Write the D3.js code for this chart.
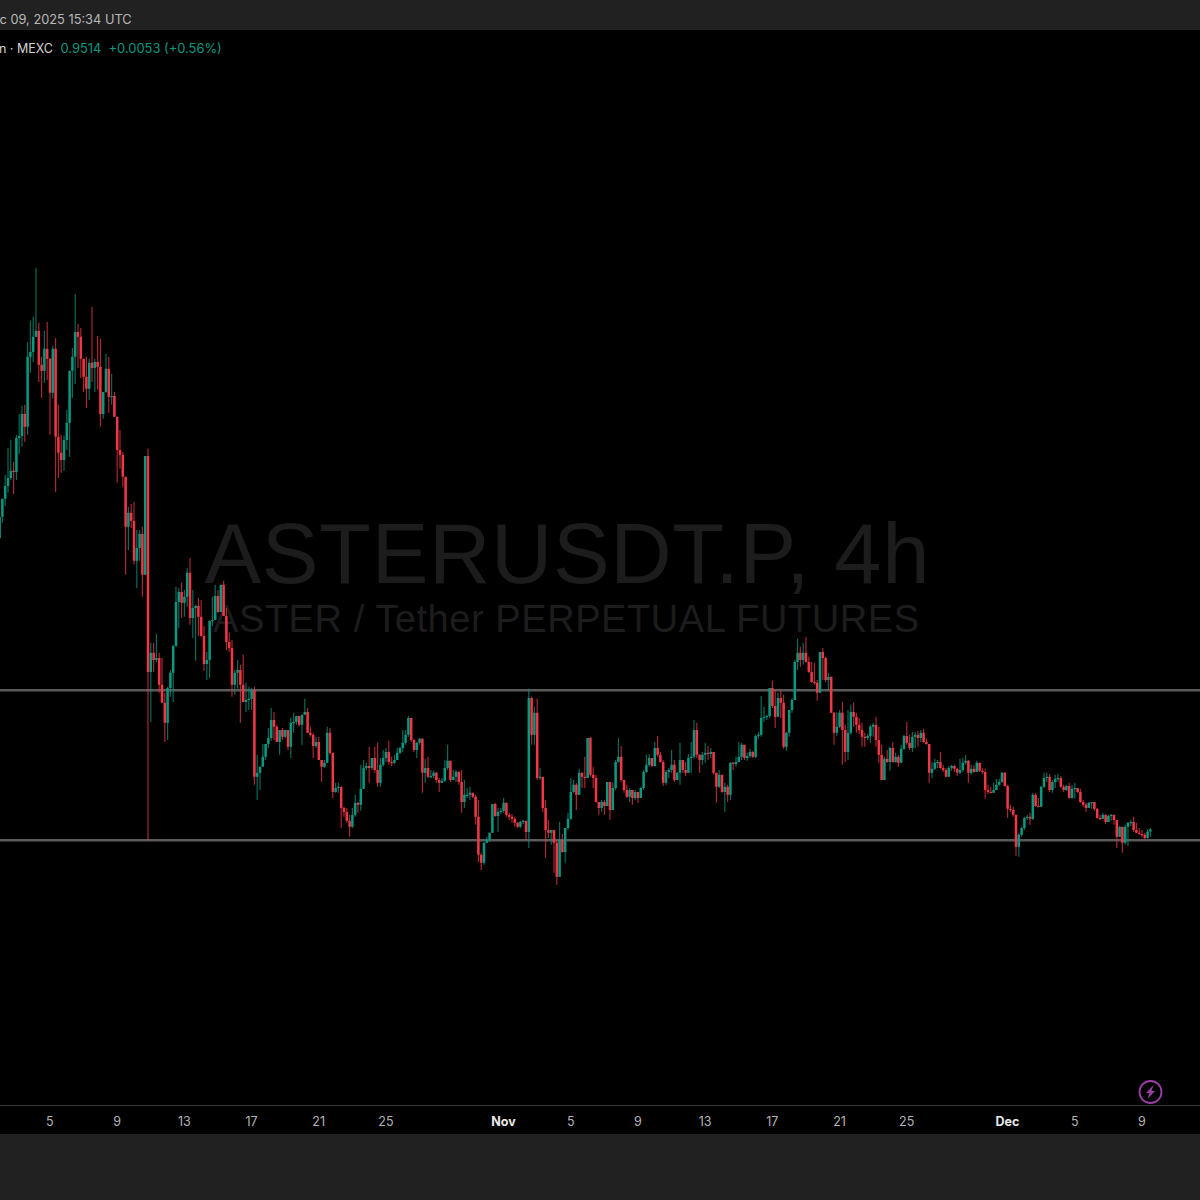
<!DOCTYPE html>
<html><head><meta charset="utf-8">
<script src="https://cdn.jsdelivr.net/npm/d3@7"></script>
<style>html,body{margin:0;padding:0;background:#000;overflow:hidden}svg{display:block}</style>
</head><body><div id="chart"></div>
<script>
const firstOpen = 1.680;
const closes = [1.733,1.778,1.810,1.830,1.848,1.845,1.930,1.935,1.990,1.958,2.133,2.145,2.183,2.198,2.113,2.098,2.153,2.128,2.043,2.153,
1.933,1.893,1.875,1.925,1.968,2.098,2.133,2.195,2.183,2.128,2.083,2.053,2.118,2.105,2.120,2.108,1.990,2.045,2.103,2.033,
2.035,1.983,1.900,1.888,1.833,1.708,1.743,1.723,1.623,1.655,1.690,1.588,1.885,1.345,1.393,1.375,1.380,1.313,1.268,1.218,
1.305,1.343,1.410,1.520,1.545,1.518,1.533,1.593,1.480,1.505,1.510,1.483,1.435,1.365,1.375,1.473,1.475,1.535,1.495,1.563,
1.485,1.420,1.405,1.313,1.343,1.350,1.313,1.270,1.275,1.278,1.300,1.083,1.093,1.108,1.133,1.165,1.180,1.225,1.208,1.170,
1.200,1.183,1.200,1.158,1.218,1.220,1.235,1.213,1.238,1.245,1.193,1.188,1.160,1.170,1.125,1.108,1.118,1.193,1.143,1.045,
1.055,1.058,1.005,0.995,0.973,0.958,0.988,1.018,1.013,1.053,1.105,1.110,1.105,1.130,1.100,1.068,1.113,1.130,1.145,1.120,
1.118,1.125,1.143,1.155,1.168,1.188,1.230,1.175,1.150,1.168,1.178,1.093,1.105,1.083,1.085,1.093,1.075,1.068,1.073,1.105,
1.123,1.075,1.083,1.095,1.070,1.020,1.038,1.038,1.043,1.033,0.983,0.888,0.868,0.918,0.925,0.943,1.015,0.985,0.995,0.998,
1.018,0.988,0.983,0.978,0.968,0.958,0.970,0.973,0.945,1.280,1.188,1.243,1.080,1.083,1.005,0.950,0.943,0.950,0.918,0.833,
0.925,0.895,0.955,0.978,1.045,1.063,1.038,1.093,1.083,1.080,1.180,1.088,1.080,1.020,1.005,1.020,1.010,1.070,1.000,1.055,
1.120,1.133,1.075,1.050,1.033,1.050,1.030,1.045,1.030,1.055,1.095,1.113,1.130,1.110,1.155,1.138,1.120,1.068,1.095,1.100,
1.113,1.075,1.093,1.125,1.100,1.093,1.130,1.133,1.200,1.138,1.125,1.138,1.143,1.140,1.145,1.093,1.058,1.088,1.045,1.058,
1.038,1.118,1.115,1.120,1.133,1.163,1.130,1.135,1.145,1.133,1.185,1.188,1.230,1.233,1.235,1.305,1.260,1.233,1.280,1.268,
1.158,1.193,1.250,1.275,1.370,1.393,1.375,1.393,1.370,1.345,1.320,1.318,1.293,1.395,1.380,1.325,1.333,1.243,1.193,1.208,
1.243,1.200,1.145,1.193,1.245,1.233,1.213,1.200,1.183,1.180,1.185,1.208,1.213,1.175,1.138,1.075,1.128,1.120,1.155,1.120,
1.133,1.118,1.153,1.185,1.168,1.155,1.183,1.188,1.180,1.193,1.170,1.165,1.093,1.103,1.118,1.120,1.105,1.100,1.083,1.105,
1.110,1.103,1.093,1.100,1.118,1.123,1.093,1.103,1.095,1.118,1.098,1.095,1.050,1.045,1.043,1.050,1.063,1.070,1.093,1.060,
1.003,1.000,0.988,0.908,0.938,0.955,0.980,0.983,0.978,1.038,1.010,1.008,1.058,1.080,1.083,1.050,1.070,1.078,1.080,1.058,
1.050,1.060,1.030,1.053,1.055,1.045,1.020,1.013,1.005,1.018,1.020,1.003,0.980,0.978,0.988,0.970,0.985,0.988,0.975,0.933,
0.958,0.918,0.958,0.968,0.970,0.950,0.943,0.940,0.938,0.930,0.9461,0.9514];
const highs = [1.733,1.778,1.838,1.905,1.925,1.870,1.938,1.990,2.010,2.013,2.170,2.223,2.233,2.355,2.218,2.133,2.198,2.220,2.130,2.160,
2.180,2.013,1.938,1.935,2.000,2.098,2.155,2.290,2.215,2.205,2.128,2.133,2.128,2.258,2.128,2.185,2.178,2.045,2.140,2.133,
2.090,2.045,1.983,1.950,1.895,1.833,1.758,1.765,1.770,1.700,1.700,1.708,1.885,1.903,1.418,1.418,1.440,1.393,1.380,1.293,
1.308,1.350,1.413,1.558,1.555,1.568,1.550,1.605,1.630,1.550,1.513,1.530,1.525,1.460,1.395,1.473,1.533,1.563,1.550,1.563,
1.573,1.505,1.443,1.425,1.350,1.375,1.363,1.388,1.318,1.308,1.305,1.308,1.138,1.108,1.165,1.165,1.205,1.255,1.245,1.213,
1.200,1.205,1.200,1.200,1.230,1.243,1.235,1.235,1.238,1.278,1.255,1.208,1.193,1.183,1.183,1.125,1.125,1.208,1.205,1.143,
1.068,1.068,1.058,1.008,1.005,0.988,1.005,1.038,1.020,1.113,1.125,1.118,1.158,1.130,1.158,1.168,1.130,1.150,1.155,1.173,
1.133,1.138,1.155,1.158,1.200,1.200,1.235,1.230,1.178,1.170,1.180,1.180,1.128,1.133,1.100,1.098,1.095,1.080,1.080,1.125,
1.163,1.120,1.100,1.100,1.098,1.100,1.075,1.055,1.058,1.043,1.038,1.025,0.893,0.920,0.933,0.943,1.015,1.018,1.005,1.005,
1.030,1.018,0.993,0.990,0.983,0.970,0.973,0.975,0.970,1.303,1.283,1.258,1.278,1.105,1.083,1.025,0.975,0.950,0.950,0.925,
0.970,0.940,0.955,0.993,1.080,1.075,1.068,1.103,1.093,1.133,1.180,1.183,1.108,1.088,1.020,1.025,1.025,1.070,1.068,1.068,
1.125,1.180,1.160,1.075,1.063,1.055,1.050,1.050,1.045,1.058,1.100,1.138,1.140,1.130,1.170,1.185,1.145,1.125,1.100,1.105,
1.150,1.125,1.095,1.168,1.125,1.120,1.140,1.170,1.225,1.218,1.140,1.145,1.168,1.160,1.155,1.143,1.093,1.100,1.083,1.068,
1.063,1.120,1.120,1.133,1.170,1.168,1.163,1.143,1.153,1.148,1.188,1.195,1.285,1.258,1.238,1.305,1.323,1.300,1.293,1.300,
1.288,1.195,1.250,1.280,1.375,1.428,1.408,1.418,1.433,1.383,1.370,1.368,1.325,1.395,1.405,1.383,1.343,1.333,1.245,1.243,
1.250,1.270,1.213,1.250,1.263,1.268,1.243,1.230,1.218,1.193,1.190,1.213,1.218,1.233,1.208,1.163,1.133,1.150,1.158,1.170,
1.143,1.138,1.163,1.188,1.220,1.188,1.195,1.195,1.198,1.200,1.203,1.178,1.165,1.120,1.128,1.125,1.145,1.113,1.105,1.110,
1.113,1.113,1.105,1.128,1.130,1.138,1.125,1.113,1.113,1.123,1.113,1.105,1.103,1.063,1.058,1.068,1.078,1.078,1.095,1.095,
1.063,1.013,1.008,0.988,0.943,0.958,0.983,0.988,0.993,1.043,1.043,1.030,1.060,1.093,1.093,1.090,1.075,1.088,1.090,1.085,
1.063,1.063,1.068,1.063,1.068,1.055,1.053,1.025,1.018,1.020,1.020,1.010,1.005,0.988,0.993,0.988,0.988,0.990,0.988,0.975,
0.960,0.958,0.963,0.970,0.975,0.983,0.968,0.955,0.950,0.943,0.9528,0.955];
const lows = [1.680,1.718,1.760,1.793,1.825,1.790,1.825,1.890,1.908,1.920,1.938,2.093,2.120,2.183,2.070,2.030,2.068,2.075,1.938,2.028,
1.795,1.830,1.843,1.848,1.900,1.883,2.030,2.065,2.105,2.080,2.045,2.005,2.025,2.070,2.045,2.050,1.958,1.978,2.043,1.993,
2.013,1.983,1.818,1.853,1.808,1.588,1.650,1.705,1.613,1.555,1.623,1.533,1.588,0.923,1.220,1.345,1.370,1.293,1.268,1.170,
1.175,1.283,1.270,1.408,1.455,1.480,1.483,1.508,1.463,1.430,1.373,1.435,1.433,1.348,1.325,1.330,1.460,1.475,1.493,1.495,
1.485,1.400,1.395,1.283,1.288,1.303,1.218,1.270,1.245,1.250,1.250,1.063,1.025,1.050,1.108,1.125,1.155,1.173,1.175,1.170,
1.138,1.175,1.180,1.150,1.130,1.193,1.213,1.208,1.163,1.238,1.193,1.183,1.130,1.155,1.125,1.070,1.105,1.118,1.138,1.030,
1.043,1.043,0.955,0.983,0.968,0.933,0.955,0.983,0.993,0.998,1.053,1.100,1.068,1.100,1.093,1.058,1.058,1.108,1.120,1.113,
1.110,1.115,1.125,1.140,1.145,1.163,1.183,1.170,1.145,1.130,1.163,1.043,1.068,1.080,1.080,1.080,1.068,1.045,1.068,1.070,
1.100,1.070,1.075,1.070,1.063,0.993,1.005,1.030,1.025,1.030,0.963,0.870,0.850,0.863,0.918,0.920,0.943,0.983,0.945,0.990,
0.993,0.983,0.975,0.968,0.958,0.955,0.955,0.965,0.925,0.905,1.163,1.163,1.075,1.075,0.995,0.880,0.930,0.913,0.843,0.813,
0.833,0.893,0.868,0.950,0.975,1.043,1.000,1.038,1.055,1.055,1.080,1.083,1.055,1.018,0.988,0.995,0.988,1.013,0.975,1.000,
1.050,1.118,1.070,1.043,1.030,1.020,1.013,1.025,1.018,1.030,1.050,1.093,1.108,1.108,1.108,1.133,1.118,1.060,1.063,1.080,
1.093,1.070,1.075,1.063,1.093,1.085,1.093,1.093,1.128,1.130,1.093,1.113,1.118,1.125,1.130,1.088,1.018,1.055,1.043,0.995,
1.020,1.025,1.100,1.108,1.120,1.125,1.125,1.123,1.130,1.130,1.130,1.178,1.183,1.220,1.225,1.230,1.255,1.205,1.233,1.230,
1.153,1.148,1.183,1.243,1.275,1.350,1.358,1.363,1.368,1.343,1.318,1.313,1.273,1.293,1.325,1.320,1.300,1.243,1.163,1.185,
1.205,1.113,1.120,1.125,1.188,1.208,1.193,1.190,1.158,1.158,1.175,1.168,1.183,1.158,1.118,1.075,1.075,1.118,1.098,1.118,
1.118,1.108,1.125,1.150,1.163,1.150,1.145,1.155,1.158,1.170,1.168,1.163,1.068,1.080,1.100,1.105,1.103,1.095,1.083,1.085,
1.098,1.095,1.085,1.090,1.095,1.113,1.068,1.088,1.093,1.095,1.095,1.090,1.028,1.040,1.043,1.043,1.058,1.060,1.068,1.058,
0.980,0.995,0.983,0.885,0.883,0.933,0.950,0.975,0.963,0.975,1.008,1.008,1.013,1.055,1.070,1.045,1.043,1.055,1.070,1.055,
1.045,1.048,1.028,1.028,1.028,1.043,1.018,1.008,0.995,1.005,1.003,0.998,0.978,0.975,0.978,0.965,0.970,0.973,0.963,0.905,
0.933,0.893,0.913,0.910,0.960,0.945,0.943,0.938,0.933,0.923,0.928,0.933];
const levels = [1.300, 0.925];
const tickDates = ["2025-10-05","2025-10-09","2025-10-13","2025-10-17","2025-10-21","2025-10-25","2025-11-01","2025-11-05","2025-11-09","2025-11-13","2025-11-17","2025-11-21","2025-11-25","2025-12-01","2025-12-05","2025-12-09"];
const tickNames = ["5","9","13","17","21","25","Nov","5","9","13","17","21","25","Dec","5","9"];
const boldNames = ["Nov","Dec"];
const headerTime = "c 09, 2025 15:34 UTC";
const legendName = "n · MEXC";
const legendValues = "0.9514  +0.0053 (+0.56%)";
const watermarkTitle = "ASTERUSDT.P, 4h";
const watermarkSub = "ASTER / Tether PERPETUAL FUTURES";

const W = 1200, H = 1200;
const GREEN = "#089981", RED = "#f23645";
const start = new Date(Date.UTC(2025, 9, 2, 0));
const end = new Date(Date.UTC(2025, 11, 9, 12));
const x = d3.scaleUtc().domain([start, end]).range([-0.4, 1150.4]);
const y = d3.scaleLinear().domain([0.2625, 2.95]).range([1105, 30]);

const bars = closes.map((c, i) => {
  const o = i ? closes[i - 1] : firstOpen;
  return { t: d3.utcHour.offset(start, i * 4), o, c,
    h: Math.max(highs[i], o, c), l: Math.min(lows[i], o, c), up: c >= o };
});

const svg = d3.select("#chart").append("svg").attr("width", W).attr("height", H)
  .style("font-family", "Inter, 'Liberation Sans', sans-serif");
svg.append("rect").attr("width", W).attr("height", H).attr("fill", "#000");
svg.append("rect").attr("width", W).attr("height", 30).attr("fill", "#212121");
svg.append("rect").attr("y", 1134).attr("width", W).attr("height", 66).attr("fill", "#212121");

const wm = svg.append("g").attr("font-family", "'Liberation Sans', Arial, sans-serif")
  .attr("fill", "#1c1c1d").attr("text-anchor", "middle");
wm.append("text").attr("x", 567).attr("y", 583).attr("font-size", 85).attr("textLength", 725).text(watermarkTitle);
wm.append("text").attr("x", 566).attr("y", 632).attr("font-size", 38).attr("textLength", 706).text(watermarkSub);

svg.selectAll("line.level").data(levels).join("line").attr("class", "level")
  .attr("x1", 0).attr("x2", W).attr("y1", d => y(d) + 0.3).attr("y2", d => y(d) + 0.3)
  .attr("stroke", "#5a5a5a").attr("stroke-width", 2.4);

const plot = svg.append("g").style("filter", "blur(0.4px)");
plot.selectAll("line.wick").data(bars).join("line").attr("class", "wick")
  .attr("x1", d => x(d.t)).attr("x2", d => x(d.t))
  .attr("y1", d => y(d.h)).attr("y2", d => y(d.l))
  .attr("stroke", d => d.up ? GREEN : RED).attr("stroke-opacity", 0.7).attr("stroke-width", 1.2);
plot.selectAll("rect.body").data(bars).join("rect").attr("class", "body")
  .attr("x", d => x(d.t) - 1.25).attr("width", 2.5)
  .attr("y", d => y(Math.max(d.o, d.c)))
  .attr("height", d => Math.max(1.2, Math.abs(y(d.o) - y(d.c))))
  .attr("fill", d => d.up ? GREEN : RED);

svg.append("line").attr("x1", 0).attr("x2", W).attr("y1", 1105.5).attr("y2", 1105.5)
  .attr("stroke", "#3a3a3a").attr("stroke-width", 1);

const axis = d3.axisBottom(x).tickSize(0).tickPadding(0)
  .tickValues(tickDates.map(d => new Date(d + "T00:00:00Z")))
  .tickFormat((d, i) => tickNames[i]);
const ax = svg.append("g").attr("transform", "translate(-0.6,1105)").call(axis);
ax.select(".domain").remove();
ax.selectAll("text").attr("y", 20.5).attr("dy", 0).attr("font-size", 12.5)
  .attr("font-family", "Inter, 'Liberation Sans', sans-serif")
  .attr("fill", "#b4b4b4")
  .each(function() {
    const s = d3.select(this);
    if (boldNames.includes(s.text())) s.attr("fill", "#e8e8e8").attr("font-weight", 700);
  });

svg.append("text").attr("x", -0.5).attr("y", 23.5).attr("font-size", 12.8).attr("fill", "#b8b8b8").text(headerTime);
svg.append("text").attr("x", 53).attr("y", 53).attr("text-anchor", "end").attr("font-size", 12.5).attr("fill", "#d4d4d4").text(legendName);
svg.append("text").attr("x", 60.5).attr("y", 53).attr("font-size", 12.9).attr("fill", GREEN).style("white-space", "pre").text(legendValues);

const icon = svg.append("g").attr("transform", "translate(1150.5,1092)");
icon.append("circle").attr("r", 11).attr("fill", "none").attr("stroke", "#9a3fa6").attr("stroke-width", 1.8);
icon.append("path").attr("d", "M3,-7 L-4.5,1 L-1,1 L-3,7 L4.5,-1 L1,-1 Z").attr("fill", "#9a3fa6");
</script></body></html>
